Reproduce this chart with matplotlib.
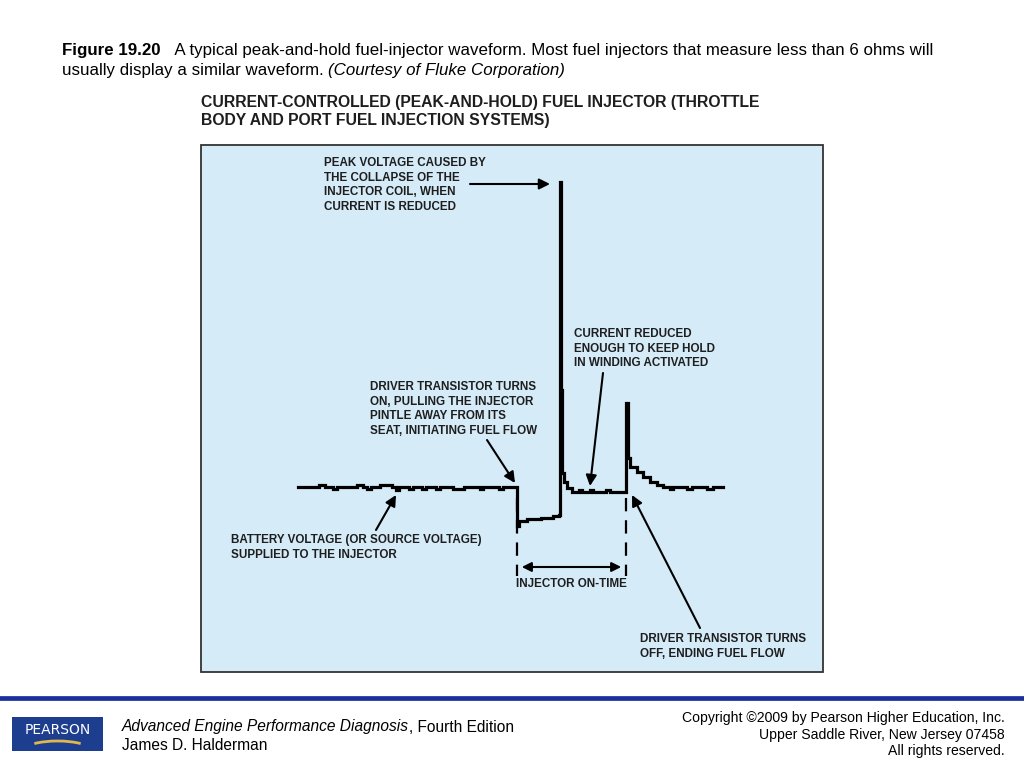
import matplotlib
matplotlib.use('Agg')
import matplotlib.pyplot as plt
from matplotlib.patches import Rectangle, Arc

# waveform (x = screen position, y = screen position, down is lower volts)
wave_x = [298, 319, 325, 333, 337, 357, 363, 367, 371, 380, 392, 396, 399, 409, 413,
          422, 426, 436, 440, 453, 464, 480, 483, 499, 503,
          517, 519, 527, 541, 553, 559,
          560, 561, 562, 564, 567, 572, 579, 582, 590, 593, 606, 610,
          626, 628, 630, 637, 643, 650, 657, 663, 670, 673, 687, 692, 707, 713, 723]
wave_y = [487, 485, 487, 489, 487, 485, 487, 489, 487, 485, 487, 490, 487, 489, 487,
          489, 487, 489, 487, 489, 487, 489, 487, 489, 487,
          526, 521, 519, 518, 516, 515,
          182, 390, 473, 482, 488, 492, 490, 492, 490, 492, 490, 492,
          403, 458, 467, 472, 477, 482, 485, 487, 489, 487, 489, 487, 489, 487, 487]

on_start = 517
on_end = 626

notes = [
    ("PEAK VOLTAGE CAUSED BY\nTHE COLLAPSE OF THE\nINJECTOR COIL, WHEN\nCURRENT IS REDUCED",
     (324, 157), (470, 184), (550, 184)),
    ("CURRENT REDUCED\nENOUGH TO KEEP HOLD\nIN WINDING ACTIVATED",
     (574, 328), (603, 373), (590, 486)),
    ("DRIVER TRANSISTOR TURNS\nON, PULLING THE INJECTOR\nPINTLE AWAY FROM ITS\nSEAT, INITIATING FUEL FLOW",
     (370, 381), (487, 440), (515, 483)),
    ("BATTERY VOLTAGE (OR SOURCE VOLTAGE)\nSUPPLIED TO THE INJECTOR",
     (231, 534), (376, 530), (396, 495)),
    ("DRIVER TRANSISTOR TURNS\nOFF, ENDING FUEL FLOW",
     (640, 633), (700, 628), (632, 495)),
]

plt.rcParams['font.family'] = ['Liberation Sans', 'DejaVu Sans']

fig = plt.figure(figsize=(10.24, 7.68), dpi=100)
ax = fig.add_axes([0, 0, 1, 1])
ax.set_xlim(0, 1024)
ax.set_ylim(768, 0)
ax.axis('off')
r = fig.canvas.get_renderer()


def run_text(x, y, parts, size):
    # put text pieces one after the other on one line
    for s, kw in parts:
        t = ax.text(x, y, s, fontsize=size, va='center', ha='left', **kw)
        bb = t.get_window_extent(renderer=r)
        x += bb.width


run_text(62, 50, [("Figure 19.20", dict(weight='bold')),
                  ("   A typical peak-and-hold fuel-injector waveform. Most fuel injectors that measure less than 6 ohms will", {})], 12.2)
run_text(62, 71, [("usually display a similar waveform. ", {}),
                  ("(Courtesy of Fluke Corporation)", dict(style='italic'))], 12.2)

# panel heading
ax.text(201, 102, "CURRENT-CONTROLLED (PEAK-AND-HOLD) FUEL INJECTOR (THROTTLE",
        weight='bold', fontsize=11.3, va='center', color='#1e1e1e')
ax.text(201, 120, "BODY AND PORT FUEL INJECTION SYSTEMS)",
        weight='bold', fontsize=11.3, va='center', color='#1e1e1e')

# scope screen
ax.add_patch(Rectangle((201, 145), 622, 527, facecolor='#d5ebf8', edgecolor='#333333', lw=1.3))

ax.step(wave_x, wave_y, where='post', color='black', lw=2.3, solid_joinstyle='miter')

for xx in (on_start, on_end):
    ax.plot([xx, xx], [498, 576], color='black', lw=1.6, dashes=(6, 4))
ax.annotate('', xy=(on_start + 2, 567), xytext=(on_end - 2, 567),
            arrowprops=dict(arrowstyle='<|-|>', color='black', lw=1.5, mutation_scale=14))
ax.text((on_start + on_end) / 2, 584, "INJECTOR ON-TIME", fontsize=8.4, weight='bold',
        ha='center', va='center', color='#1e1e1e')

for txt, pos, start, tip in notes:
    ax.text(pos[0], pos[1], txt, fontsize=8.4, weight='bold', ha='left', va='top',
            linespacing=1.3, color='#1e1e1e')
    ax.annotate('', xy=tip, xytext=start,
                arrowprops=dict(arrowstyle='-|>', color='black', lw=1.5, mutation_scale=16,
                                shrinkA=0, shrinkB=0))

# footer
ax.plot([0, 1024], [698, 698], color='#1b2f9e', lw=3.4)
ax.add_patch(Rectangle((12, 717), 91, 34, facecolor='#1d3d8f', edgecolor='none'))
ax.text(57.5, 730, "PEARSON", color='white', fontsize=10, ha='center', va='center',
        family='DejaVu Sans')
ax.add_patch(Arc((57.5, 752), 72, 22, theta1=200, theta2=340, color='#e0b94a', lw=2))

run_text(122, 727, [("Advanced Engine Performance Diagnosis", dict(style='italic')),
                    (", Fourth Edition", {})], 11.2)
ax.text(122, 746, "James D. Halderman", fontsize=11.2, va='center')
ax.text(1005, 718, "Copyright \u00a92009 by Pearson Higher Education, Inc.", fontsize=10.1,
        ha='right', va='center')
ax.text(1005, 735, "Upper Saddle River, New Jersey 07458", fontsize=10.1, ha='right', va='center')
ax.text(1005, 751, "All rights reserved.", fontsize=10.1, ha='right', va='center')

fig.savefig('out.png', dpi=100, facecolor='white')
